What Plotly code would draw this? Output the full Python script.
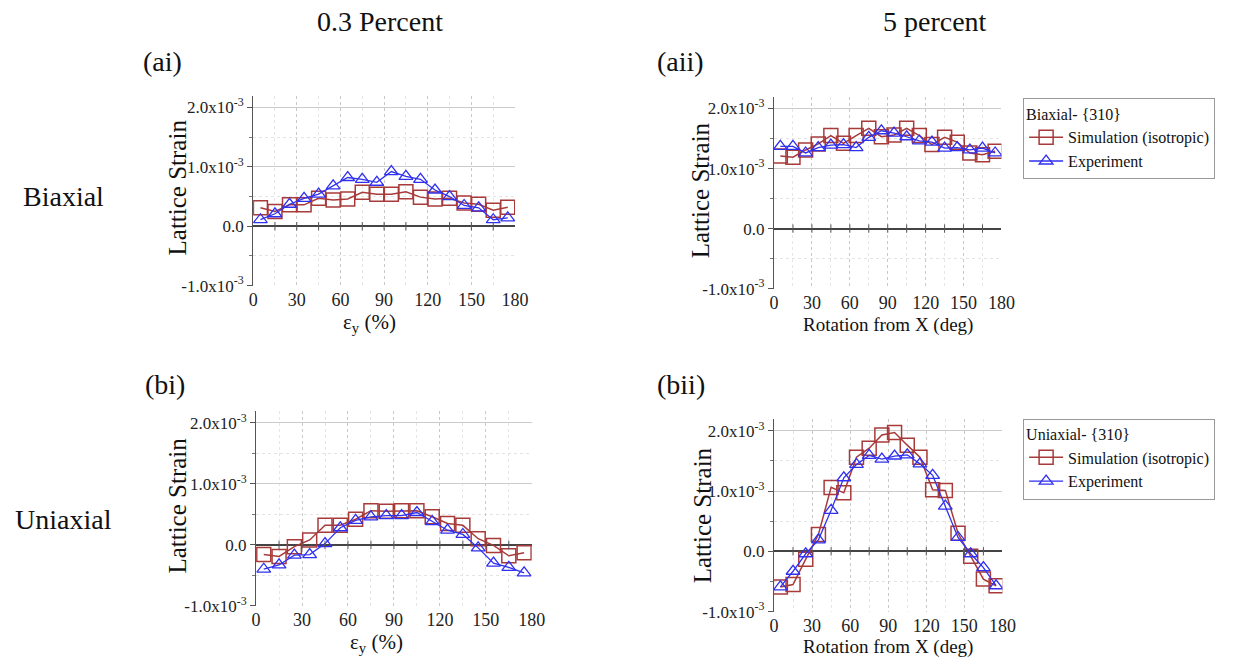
import plotly.graph_objects as go

W, H = 1237, 666
FONT = "Liberation Serif, Times New Roman, serif"

angles = [5, 15, 25, 35, 45, 55, 65, 75, 85, 95, 105, 115, 125, 135, 145, 155, 165, 175]
x_ticks = [0, 30, 60, 90, 120, 150, 180]
zero_ticks = [15, 30, 45, 60, 75, 90, 105, 120, 135, 150, 165]
y_ticks = [-1e-3, 0.0, 1e-3, 2e-3]
y_ticktext = ["-1.0x10<sup>-3</sup>", "0.0", "1.0x10<sup>-3</sup>", "2.0x10<sup>-3</sup>"]

# 0.3 percent, biaxial (ai)
ai_sim = [0.31, 0.25, 0.36, 0.36, 0.47, 0.44, 0.46, 0.57, 0.54, 0.54, 0.58, 0.49, 0.46, 0.47, 0.39, 0.37, 0.27, 0.32]
ai_exp = [0.11, 0.21, 0.37, 0.47, 0.54, 0.68, 0.82, 0.79, 0.74, 0.92, 0.84, 0.79, 0.61, 0.50, 0.35, 0.31, 0.11, 0.14]
# 5 percent, biaxial (aii)
aii_sim = [1.21, 1.19, 1.31, 1.41, 1.55, 1.42, 1.55, 1.67, 1.53, 1.56, 1.67, 1.55, 1.40, 1.52, 1.44, 1.26, 1.23, 1.29]
aii_exp = [1.37, 1.37, 1.26, 1.35, 1.39, 1.40, 1.35, 1.52, 1.63, 1.59, 1.53, 1.46, 1.44, 1.34, 1.35, 1.31, 1.34, 1.26]
# 0.3 percent, uniaxial (bi)
bi_sim = [-0.16, -0.19, -0.03, 0.08, 0.32, 0.32, 0.42, 0.56, 0.55, 0.56, 0.56, 0.46, 0.35, 0.32, 0.10, -0.01, -0.18, -0.13]
bi_exp = [-0.40, -0.33, -0.17, -0.16, 0.02, 0.28, 0.40, 0.46, 0.48, 0.48, 0.53, 0.38, 0.24, 0.17, -0.05, -0.30, -0.37, -0.46]
# 5 percent, uniaxial (bii)
bii_sim = [-0.59, -0.55, -0.13, 0.28, 1.06, 0.97, 1.56, 1.71, 1.93, 1.97, 1.76, 1.56, 1.02, 1.01, 0.30, -0.08, -0.46, -0.57]
bii_exp = [-0.59, -0.33, -0.04, 0.19, 0.68, 1.22, 1.44, 1.59, 1.53, 1.58, 1.60, 1.45, 1.26, 0.75, 0.23, -0.04, -0.27, -0.57]

SCALE = 1e-3
SIM_COLOR = "#A83A3A"
EXP_COLOR = "#3030F0"


def px(x, y):
    return x / W, 1 - y / H


# panel geometry in pixels: (x_left, x_right, y_bottom, y_top)
panels = [
    ("ai", 252, 518, 290, 97),
    ("aii", 781, 1012, 293, 98),
    ("bi", 255, 535, 615, 417),
    ("bii", 781, 1013, 621, 425),
]
series = {
    "ai": (ai_sim, ai_exp, None),
    "aii": (aii_sim, aii_exp, "legend"),
    "bi": (bi_sim, bi_exp, None),
    "bii": (bii_sim, bii_exp, "legend2"),
}

fig = go.Figure()
layout = {}
for i, (name, xl, xr, yb, yt) in enumerate(panels, start=1):
    sfx = "" if i == 1 else str(i)
    xa, ya = "x" + sfx, "y" + sfx
    layout["xaxis" + sfx] = dict(
        domain=[xl / W, xr / W], anchor=ya, range=[0, 180],
        tickvals=x_ticks, ticks="", showline=False, zeroline=False,
        showgrid=True, gridcolor="#c8c8c8", griddash="dot", gridwidth=1,
        minor=dict(dtick=15, tick0=0, showgrid=True, gridcolor="#e6e6e6", griddash="dot", ticks=""),
        tickfont=dict(family=FONT, size=18, color="#222"),
        ticklabelstandoff=1,
    )
    layout["yaxis" + sfx] = dict(
        domain=[1 - yb / H, 1 - yt / H], anchor=xa, range=[-1e-3, 2.2e-3],
        tickvals=y_ticks, ticktext=y_ticktext, ticks="outside", ticklen=5,
        tickcolor="#555", showline=True, linecolor="#555", linewidth=1.2,
        showgrid=True, gridcolor="#cccccc", gridwidth=1,
        zeroline=True, zerolinecolor="#444", zerolinewidth=1.5,
        minor=dict(dtick=5e-4, tick0=0, showgrid=True, gridcolor="#e4e4e4", griddash="dot",
                   ticks="outside", ticklen=3, tickcolor="#777"),
        tickfont=dict(family=FONT, size=17, color="#222"),
    )
    sim, exp, leg = series[name]
    show = leg is not None
    fig.add_trace(go.Scatter(
        x=angles, y=[v * SCALE for v in sim], xaxis=xa, yaxis=ya,
        mode="lines+markers", name="Simulation (isotropic)",
        line=dict(color=SIM_COLOR, width=1.5),
        marker=dict(symbol="square-open", size=14, color=SIM_COLOR, line=dict(width=1.5)),
        showlegend=show, legend=leg if show else "legend",
    ))
    fig.add_trace(go.Scatter(
        x=angles, y=[v * SCALE for v in exp], xaxis=xa, yaxis=ya,
        mode="lines+markers", name="Experiment",
        line=dict(color=EXP_COLOR, width=1.3),
        marker=dict(symbol="triangle-up-open", size=12, color=EXP_COLOR, line=dict(width=1.3)),
        showlegend=show, legend=leg if show else "legend",
    ))
    # small tick marks on the zero line
    fig.add_trace(go.Scatter(
        x=zero_ticks, y=[0] * len(zero_ticks), xaxis=xa, yaxis=ya,
        mode="markers", marker=dict(symbol="line-ns", size=6, line=dict(color="#555", width=1)),
        showlegend=False, hoverinfo="skip",
    ))

annotations = []


def add_text(text, x, y, size, xanchor="center", yanchor="middle", angle=0):
    ax, ay = px(x, y)
    annotations.append(dict(text=text, x=ax, y=ay, xref="paper", yref="paper",
                            xanchor=xanchor, yanchor=yanchor, showarrow=False,
                            textangle=angle, font=dict(family=FONT, size=size, color="#111")))


add_text("0.3 Percent", 381, 22, 28)
add_text("5 percent", 944, 22, 28)
add_text("(ai)", 138, 62, 28, xanchor="left")
add_text("(aii)", 660, 62, 28, xanchor="left")
add_text("(bi)", 140, 390, 28, xanchor="left")
add_text("(bii)", 660, 390, 28, xanchor="left")
add_text("Biaxial", 16, 199, 28, xanchor="left")
add_text("Uniaxial", 8, 527, 28, xanchor="left")
add_text("Lattice Strain", 175, 190, 25, angle=-90)
add_text("Lattice Strain", 706, 193, 25, angle=-90)
add_text("Lattice Strain", 175, 513, 25, angle=-90)
add_text("Lattice Strain", 708, 523, 25, angle=-90)
add_text("ε<sub>y</sub> (%)", 370, 313, 21, yanchor="top")
add_text("ε<sub>y</sub> (%)", 377, 638, 21, yanchor="top")
add_text("Rotation from X (deg)", 897, 330, 19)
add_text("Rotation from X (deg)", 897, 657, 19)

lx, ly1 = px(1034, 100)
_, ly2 = px(1034, 425)
legend_common = dict(
    xanchor="left", yanchor="top", bgcolor="white", bordercolor="#999", borderwidth=1,
    font=dict(family=FONT, size=16, color="#111"), tracegroupgap=0, itemwidth=34,
)

fig.update_layout(
    width=W, height=H, margin=dict(l=0, r=0, t=0, b=0),
    paper_bgcolor="white", plot_bgcolor="white",
    font=dict(family=FONT),
    annotations=annotations,
    legend=dict(x=lx, y=ly1, title=dict(text="Biaxial- {310}", font=dict(family=FONT, size=16)), **legend_common),
    legend2=dict(x=lx, y=ly2, title=dict(text="Uniaxial- {310}", font=dict(family=FONT, size=16)), **legend_common),
    **layout,
)

fig.write_html("out.html")
